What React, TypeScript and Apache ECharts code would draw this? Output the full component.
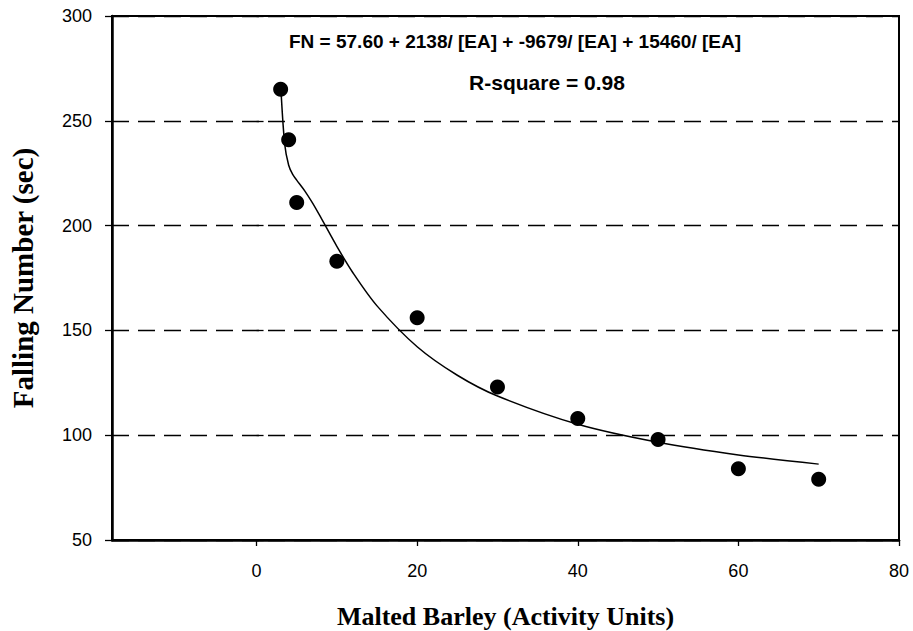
import React, { useEffect, useRef } from "react";
import * as echarts from "echarts";

const barleyEA = [3, 4, 5, 10, 20, 30, 40, 50, 60, 70];
const fallingNumber = [265, 241, 211, 183, 156, 123, 108, 98, 84, 79];
// fitted curve
const curveEA = [3, 3.5, 4, 4.5, 5, 6, 7, 8, 10, 12, 15, 20, 25, 30, 40, 50, 60, 70];
const curveFN = [267.5, 239.0, 228.8, 224.4, 221.7, 216.6, 210.6, 203.9, 190.1, 177.5, 161.7, 142.2, 128.6, 118.7, 105.2, 96.6, 90.6, 86.2];
const xTickValues = [0, 20, 40, 60, 80];
const equationText = "FN = 57.60 + 2138/ [EA] + -9679/ [EA] + 15460/ [EA]";
const rSquareText = "R-square = 0.98";

export default function App() {
  const ref = useRef<HTMLDivElement>(null);
  useEffect(() => {
    if (!ref.current) return;
    const chart = echarts.init(ref.current, null, { renderer: "svg" });
    const labelFont = { color: "#000", fontFamily: "Liberation Sans, Arial, sans-serif", fontSize: 18 };
    const titleFont = { color: "#000", fontFamily: "Liberation Serif, Times New Roman, serif", fontWeight: "bold", fontSize: 26 };
    chart.setOption({
      animation: false,
      backgroundColor: "#fff",
      grid: {
        left: 112,
        right: 14,
        top: 16,
        bottom: 91,
        show: true,
        borderColor: "#000",
        borderWidth: 2,
        backgroundColor: "transparent",
        containLabel: false,
        outerBoundsMode: "none",
      },
      xAxis: {
        type: "value",
        min: -18,
        max: 80,
        name: "Malted Barley (Activity Units)",
        nameLocation: "middle",
        nameGap: 63,
        nameTextStyle: titleFont,
        axisLine: { show: true, onZero: false, lineStyle: { color: "#000", width: 2.5 } },
        axisTick: { show: true, customValues: xTickValues, length: 6, lineStyle: { color: "#000", width: 1.3 } },
        axisLabel: { ...labelFont, customValues: xTickValues, margin: 22, alignMaxLabel: "center", hideOverlap: false },
        splitLine: { show: false },
      },
      yAxis: [
        {
          type: "value",
          min: 50,
          max: 300,
          interval: 50,
          name: "Falling Number (sec)",
          nameLocation: "middle",
          nameGap: 75,
          nameTextStyle: { ...titleFont, fontSize: 29 },
          axisLine: { show: true, onZero: false, lineStyle: { color: "#000", width: 2.5 } },
          axisTick: { show: true, length: 7, lineStyle: { color: "#000", width: 1.3 } },
          axisLabel: { ...labelFont, margin: 20 },
          splitLine: { show: true, lineStyle: { color: "#000", width: 1.3, type: [17, 9] } },
        },
        {
          type: "value",
          min: 50,
          max: 300,
          interval: 50,
          position: "left",
          axisLine: { show: false },
          axisTick: { show: true, inside: true, length: 7, lineStyle: { color: "#000", width: 1.3 } },
          axisLabel: { show: false },
          splitLine: { show: false },
        },
      ],
      graphic: [
        {
          type: "text",
          x: 515,
          y: 41,
          style: {
            text: equationText,
            fill: "#000",
            align: "center",
            verticalAlign: "middle",
            font: "bold 19px 'Liberation Sans', Arial, sans-serif",
          },
        },
        {
          type: "text",
          x: 547,
          y: 82,
          style: {
            text: rSquareText,
            fill: "#000",
            align: "center",
            verticalAlign: "middle",
            font: "bold 21px 'Liberation Sans', Arial, sans-serif",
          },
        },
      ],
      series: [
        {
          type: "line",
          data: curveEA.map((x, i) => [x, curveFN[i]]),
          smooth: 0.3,
          showSymbol: false,
          symbol: "none",
          lineStyle: { color: "#000", width: 1.5 },
          z: 3,
        },
        {
          type: "scatter",
          data: barleyEA.map((x, i) => [x, fallingNumber[i]]),
          symbol: "circle",
          symbolSize: 15,
          itemStyle: { color: "#000", opacity: 1 },
          z: 4,
        },
      ],
    });
    return () => chart.dispose();
  }, []);
  return <div ref={ref} style={{ position: "absolute", left: 0, top: 0, width: 913, height: 631 }} />;
}
